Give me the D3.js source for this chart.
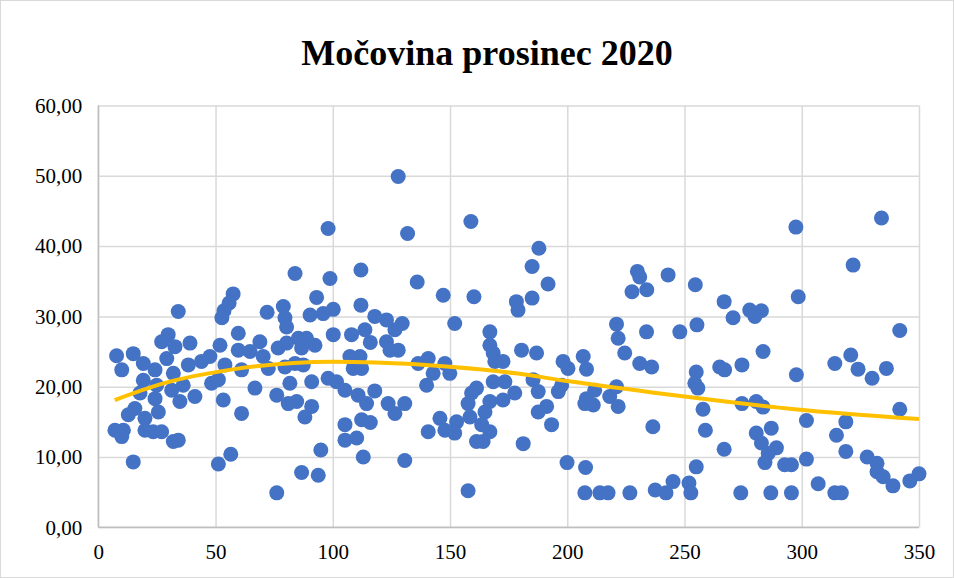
<!DOCTYPE html>
<meta charset="utf-8">
<style>
body { margin: 0; background: #fff; }
.grid line { stroke: #d9d9d9; stroke-width: 1.5px; }
.tick text { font-family: "Liberation Serif", "Times New Roman", serif; font-size: 21px; fill: #000; }
.dot { fill: #4472c4; }
.trend { fill: none; stroke: #ffc000; stroke-width: 4px; }
</style>
<body>
<script src="https://d3js.org/d3.v7.min.js"></script>
<script>

// title and axis ticks
var title = "Močovina prosinec 2020";
var xTicks = [0, 50, 100, 150, 200, 250, 300, 350];
var yTicks = [0, 10, 20, 30, 40, 50, 60];

var points = [
  [7.8,24.4],[10,22.4],[14.9,24.7],[19.2,23.3],[24.2,22.4],[27,26.4],[29.8,27.4],[32.7,25.7],[39.1,26.2],[29.2,24.0],
  [32,21.9],[38.4,23.1],[44,23.6],[47.6,24.3],[51.9,25.9],[54,23.1],[19.2,20.9],[24.9,20.2],[31.3,19.5],[36.2,20.2],
  [41.2,18.6],[48.3,20.5],[51.2,21],[17.8,19.1],[24.2,18.3],[34.8,17.9],[15.6,16.9],[12.8,16.0],[19.9,15.5],[25.6,16.4],
  [53.3,18.1],[7.1,13.8],[10.7,13.8],[10,12.9],[19.9,13.8],[23.4,13.6],[27,13.6],[32,12.2],[34.1,12.4],[14.9,9.3],
  [51.2,9.0],[56.5,10.4],
  [34.1,30.7],[53.6,30.8],[57.5,33.2],[55.8,31.9],[52.7,29.8],
  [98,42.5],[83.9,36.1],[98.8,35.4],[112,36.6],[93.1,32.7],[78.9,31.4],[72,30.6],[100.2,31.0],[112,31.6],
  [90.3,30.2],[95.9,30.4],[79.6,29.8],
  [59.7,27.6],[68.9,26.4],[59.7,25.2],[64.7,25.0],[70.3,24.3],[72.5,22.6],[61.1,22.4],[76.7,25.5],[80.3,26.2],[85.3,26.9],
  [88.8,26.9],[92.4,25.9],[86.7,25.5],[80.3,28.5],[100.2,27.4],[108,27.4],[113.7,28.1],[116,26.3],[79.6,22.8],[83.9,23.3],
  [87.4,23.1],[81.7,20.5],[91,20.7],[98,21.2],[101.6,20.7],[105.2,19.5],[107.3,24.3],[111.6,24.3],[108.7,22.6],[112.3,22.6],
  [110.8,18.8],[114.4,17.6],[66.8,19.8],[76.1,18.8],[81,17.6],[84.6,17.9],[91,17.2],[88.1,15.7],[61.1,16.2],[105.2,14.6],
  [112.3,15.3],[116,14.9],[105.2,12.4],[110.2,12.7],[94.9,11.0],[113,10.0],[86.7,7.8],[93.8,7.4],[76.1,4.9],
  [127.9,49.9],[131.9,41.8],[158.9,43.5],[136,34.9],[147.1,33.0],[160.2,32.8],[178.3,32.1],[117.9,30.0],[122.9,29.5],[129.6,29.0],
  [152,29.0],
  [126.5,28.1],[167,27.8],[122.9,26.4],[124.4,25.2],[127.9,25.2],[167,25.9],[168.4,24.8],[169.1,23.6],[172.6,23.6],[136.4,23.3],
  [140.7,24.0],[147.8,23.3],[142.8,21.9],[149.9,21.9],[140,20.2],[168.4,20.7],[173.4,20.7],[161.3,19.8],[117.9,19.4],[123.6,17.6],
  [130.7,17.6],[126.5,16.2],[159.2,19.1],[157.7,17.6],[167,17.9],[172.6,18.1],[164.9,16.4],[158.5,15.7],[163.5,14.6],[167,13.6],
  [145.7,15.5],[152.8,15.0],[140.7,13.6],[147.8,13.8],[152,13.4],[161.3,12.2],[164.1,12.2],[130.7,9.5],[157.7,5.2],
  [187.9,39.7],[185,37.1],[191.8,34.6],[185,32.6],[179,30.9],[229.9,36.4],[230.9,35.6],[227.6,33.5],[233.9,33.8],[221,28.9],
  [180.5,25.2],[186.9,24.8],[198.2,23.6],[200.3,22.6],[206.8,24.3],[208.2,22.5],[221.7,26.9],[233.8,27.8],[224.5,24.8],[230.9,23.3],
  [236,22.8],[185.4,21.0],[187.6,19.3],[177.6,19.1],[197.6,20.2],[196.2,19.3],[211.7,19.5],[208.2,18.3],[207.5,17.6],[211.1,17.4],
  [218.1,18.6],[221,20.0],[221.7,17.2],[191.2,17.2],[187.6,16.4],[193.3,14.6],[181.2,11.9],[236.5,14.3],[199.9,9.2],[207.8,8.5],
  [207.5,4.9],[213.9,4.9],[217.4,4.9],[226.7,4.9],[237.5,5.3],
  [243,35.9],[254.6,34.5],[266.9,32.1],[270.7,29.8],[277.8,30.9],[282.8,30.8],[280,30.0],[297.5,42.7],[298.5,32.8],
  [248,27.8],[255.3,28.8],[255,22.1],[254.4,20.5],[255.7,19.8],[265,22.8],[267.1,22.4],[274.5,23.1],[283.5,25.0],[257.9,16.8],
  [258.9,13.8],[274.5,17.6],[280.6,17.9],[283.5,17.1],[280.6,13.4],[287,14.1],[282.8,12.0],[289.2,11.3],[285.7,10.5],[284.3,9.2],
  [266.9,11.1],[292.7,8.9],[295.6,8.9],[255,8.6],[245.1,6.5],[251.9,6.3],[242.1,4.9],[252.7,4.9],[274,4.9],[286.8,4.9],
  [295.6,4.9],
  [334,44.0],[321.9,37.3],
  [341.8,28.0],[297.7,21.7],[314.1,23.3],[320.9,24.5],[324,22.5],[330,21.2],[336.1,22.6],[302,15.2],[318.8,15.0],[314.8,13.1],
  [341.8,16.8],[318.8,10.8],[302,9.7],[327.9,10.0],[332.1,9.1],[332.1,7.9],[334.7,7.2],[338.9,5.9],[346.1,6.6],[350,7.6],
  [307,6.2],[314.1,4.9],[316.9,4.9]
];

// polynomial trend line
var trend = [
  [7,18.1],[27,20.4],[58,22.5],[100,23.55],[118,23.45],[150,22.85],
  [178,21.9],[200,20.8],[237,19.15],[250,18.6],[297,16.8],[350,15.4]
];

var W = 954, H = 578;
var margin = {top: 105.5, right: 35, bottom: 50.7, left: 98.3},
    width = W - margin.left - margin.right,
    height = H - margin.top - margin.bottom;

var svg = d3.select("body").append("svg")
    .attr("width", W)
    .attr("height", H);

// chart frame
svg.append("rect")
    .attr("x", 0.5).attr("y", 0.5)
    .attr("width", W - 1).attr("height", H - 1)
    .attr("fill", "#fff")
    .attr("stroke", "#d9d9d9");

svg.append("text")
    .attr("x", 487)
    .attr("y", 65)
    .attr("text-anchor", "middle")
    .style("font-family", "'Liberation Serif', 'Times New Roman', serif")
    .style("font-weight", "bold")
    .style("font-size", "36px")
    .text(title);

var g = svg.append("g")
    .attr("transform", "translate(" + margin.left + "," + margin.top + ")");

var x = d3.scaleLinear().domain([0, 350]).range([0, width]);
var y = d3.scaleLinear().domain([0, 60]).range([height, 0]);

var fmt = function(d) { return d3.format(".2f")(d).replace(".", ","); };

// gridlines + labels
var yAxis = g.append("g")
    .attr("class", "grid")
    .call(d3.axisLeft(y).tickValues(yTicks).tickSize(-width).tickPadding(16).tickFormat(fmt));
yAxis.select(".domain").remove();

var xAxis = g.append("g")
    .attr("class", "grid")
    .attr("transform", "translate(0," + height + ")")
    .call(d3.axisBottom(x).tickValues(xTicks).tickSize(-height).tickPadding(14));
xAxis.select(".domain").remove();
xAxis.selectAll(".tick text").attr("dy", "0.85em");

// axis lines
g.append("line")
    .attr("x1", 0).attr("x2", width)
    .attr("y1", height).attr("y2", height)
    .attr("stroke", "#bfbfbf").attr("stroke-width", 1.5);
g.append("line")
    .attr("x1", 0).attr("x2", 0)
    .attr("y1", 0).attr("y2", height)
    .attr("stroke", "#bfbfbf").attr("stroke-width", 1.5);

// points
g.selectAll(".dot")
    .data(points)
  .enter().append("circle")
    .attr("class", "dot")
    .attr("cx", function(d) { return x(d[0]); })
    .attr("cy", function(d) { return y(d[1]); })
    .attr("r", 7.5);

// trend
var line = d3.line()
    .x(function(d) { return x(d[0]); })
    .y(function(d) { return y(d[1]); })
    .curve(d3.curveMonotoneX);

g.append("path")
    .datum(trend)
    .attr("class", "trend")
    .attr("d", line);

</script>
</body>
